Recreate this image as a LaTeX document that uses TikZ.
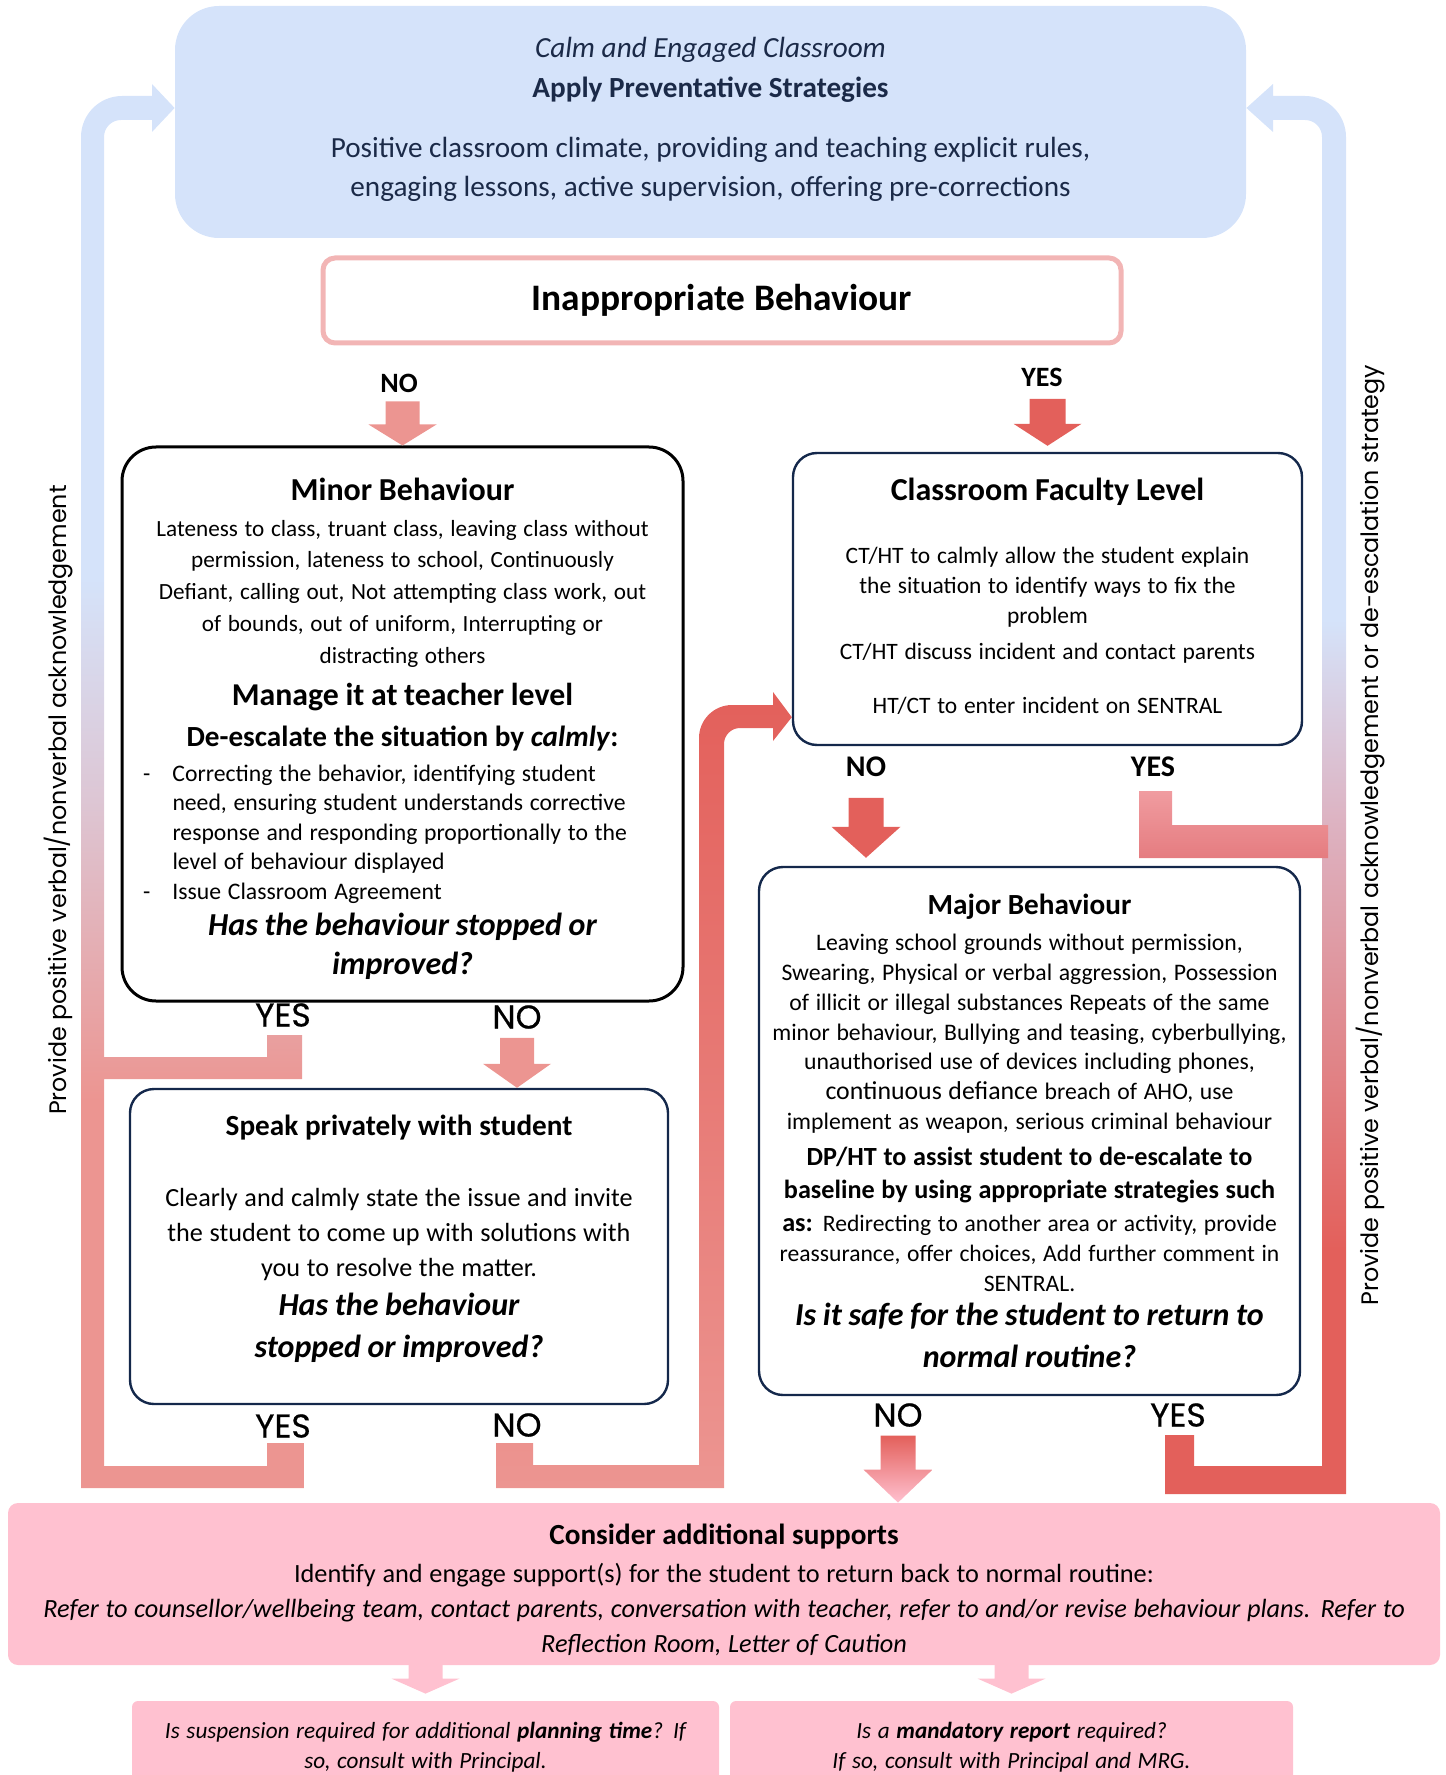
\documentclass[tikz,border=0pt]{standalone}
\usepackage{fontspec}
\setmainfont{Carlito}
\newfontfamily\geofont{Poppins}
\newfontfamily\geolabelfont[FakeBold=0.6]{Poppins}
\usetikzlibrary{calc}

\definecolor{topblue}{HTML}{D5E3FA}
\definecolor{navytext}{HTML}{1B2A48}
\definecolor{behline}{HTML}{F2B5B5}
\definecolor{boxnavy}{HTML}{14284B}
\definecolor{pinkA}{HTML}{EC9591}
\definecolor{redA}{HTML}{E3605B}
\definecolor{lavA}{HTML}{DDC6D4}
\definecolor{lavB}{HTML}{DDB3C2}
\definecolor{supportpink}{HTML}{FFC1D0}
\definecolor{yesA}{HTML}{F09CA0}
\definecolor{yesB}{HTML}{E57C80}

%gradients of the two return loops (bottom = 25bp, top = 75bp)
\pgfdeclareverticalshading{leftloop}{100bp}{color(0bp)=(pinkA); color(38.8bp)=(pinkA); color(49.5bp)=(lavA); color(57.4bp)=(topblue); color(100bp)=(topblue)}
\pgfdeclareverticalshading{rightloop}{100bp}{color(0bp)=(redA); color(33.7bp)=(redA); color(48.9bp)=(lavB); color(56bp)=(topblue); color(100bp)=(topblue)}

%block arrow pointing down: options, tip, shaft half width, head half width, head length, length
\newcommand{\blockdown}[6]{%
  \path[#1] ($(#2)+(-#3,-#6)$) -- ($(#2)+(#3,-#6)$) -- ($(#2)+(#3,-#5)$) -- ($(#2)+(#4,-#5)$)
    -- (#2) -- ($(#2)+(-#4,-#5)$) -- ($(#2)+(-#3,-#5)$) -- cycle;}
%space kept at the foot of a box text (moves the text up or down)
\newcommand{\footgap}[1]{\par\vspace{#1}\hrule height 0pt width 0pt}

\tikzset{
  panel/.style={rectangle, inner sep=0pt, align=center},
  navybox/.style={panel, draw=boxnavy, line width=1.2pt, rounded corners=12pt},
  supportbox/.style={panel, fill=supportpink, rounded corners=5pt},
  boldlabel/.style={inner sep=0pt, font=\fontsize{14}{16}\selectfont\bfseries},
  geolabel/.style={inner sep=0pt, font=\geolabelfont\fontsize{16.5}{18}\selectfont},
  sidenote/.style={inner sep=0pt, rotate=90, font=\geofont\fontsize{11.9}{13}\selectfont},
}

\begin{document}
\begin{tikzpicture}[x=0.5pt, y=-0.5pt]
\useasboundingbox (0,0) rectangle (1445,1775);

%%%%%%%%%%%%%%%%%%%%%%%%%%%%%%%%%%%%%%%%%%%%%%%%%%%%%%%%%%%%%%%%%%%%%%%%
%   boxes                                                              %
%%%%%%%%%%%%%%%%%%%%%%%%%%%%%%%%%%%%%%%%%%%%%%%%%%%%%%%%%%%%%%%%%%%%%%%%

	%Calm classroom on top
	\node[panel, fill=topblue, rounded corners=22pt, minimum width=535.5pt, minimum height=116pt, text width=520pt, text=navytext] (top) at (710.5,122) {%
		\fontsize{14.6}{20}\selectfont\itshape Calm and Engaged Classroom\par
		\upshape\bfseries Apply Preventative Strategies\par
		\vspace{10.5pt}\mdseries\fontsize{14.6}{19.5}\selectfont Positive classroom climate, providing and teaching explicit rules,\\ engaging lessons, active supervision, offering pre-corrections\par
		\vspace{3pt}};

	\node[panel, draw=behline, line width=2.5pt, rounded corners=6pt, minimum width=399pt, minimum height=42.5pt, font=\fontsize{18.7}{22}\selectfont\bfseries] (beh) at (722,300.5) {Inappropriate Behaviour};

	%Minor behaviour
	\node[panel, draw=black, line width=1.5pt, rounded corners=17pt, minimum width=280.5pt, minimum height=277pt, text width=272pt] (minor) at (402.5,724) {%
		\fontsize{16}{18}\selectfont\bfseries Minor Behaviour\par
		\vspace{2.1pt}\mdseries\fontsize{11.6}{15.9}\selectfont Lateness to class, truant class, leaving class without\\ permission, lateness to school, Continuously\\ Defiant, calling out, Not attempting class work, out\\ of bounds, out of uniform, Interrupting or\\ distracting others\par
		\vspace{4.7pt}\bfseries\fontsize{15.9}{16.3}\selectfont Manage it at teacher level\par
		\vspace{5.5pt}\fontsize{14.6}{15}\selectfont De-escalate the situation by \textit{calmly}:\par
		\vspace{2.75pt}\mdseries\fontsize{11.85}{14.75}\selectfont\raggedright\leftskip=21pt
		\leavevmode\llap{-\hspace{11pt}}Correcting the behavior, identifying student\\ need, ensuring student understands corrective\\ response and responding proportionally to the\\ level of behaviour displayed\par
		\leavevmode\llap{-\hspace{11pt}}Issue Classroom Agreement\par
		\vspace{-1.5pt}\centering\bfseries\itshape\fontsize{16}{19.5}\selectfont Has the behaviour stopped or\\ improved?\footgap{-4.5pt}};

	%Classroom faculty level
	\node[navybox, minimum width=254.5pt, minimum height=146pt, text width=250pt] (cls) at (1047.5,599) {%
		\fontsize{16}{17}\selectfont\bfseries Classroom Faculty Level\par
		\vspace{16.5pt}\mdseries\fontsize{11.75}{15}\selectfont CT/HT to calmly allow the student explain\\ the situation to identify ways to fix the\\ problem\par
		\vspace{3pt}CT/HT discuss incident and contact parents\par
		\vspace{12pt}HT/CT to enter incident on SENTRAL\footgap{2.8pt}};

	%Major behaviour
	\node[navybox, minimum width=270.5pt, minimum height=264pt, text width=268pt] (major) at (1029.5,1131) {%
		\fontsize{14.6}{16}\selectfont\bfseries Major Behaviour\par
		\vspace{3.1pt}\mdseries\fontsize{11.85}{14.9}\selectfont Leaving school grounds without permission,\\ Swearing, Physical or verbal aggression, Possession\\ of illicit or illegal substances Repeats of the same\\ minor behaviour, Bullying and teasing, cyberbullying,\\ unauthorised use of devices including phones,\\ {\fontsize{12.9}{14.9}\selectfont continuous defiance} breach of AHO, use\\ implement as weapon, serious criminal behaviour\par
		\vspace{1.5pt}\bfseries\fontsize{13.1}{16.5}\selectfont DP/HT to assist student to de-escalate to\\ baseline by using appropriate strategies such\par
		\vspace{1.5pt}\fontsize{11.8}{15}\selectfont{\fontsize{13.1}{15}\selectfont as:} \mdseries Redirecting to another area or activity, provide\\ reassurance, offer choices, Add further comment in\\ SENTRAL.\par
		\vspace{-4pt}\bfseries\itshape\fontsize{16}{21}\selectfont Is it safe for the student to return to\\ normal routine?\par};

	%Speak privately
	\node[navybox, minimum width=269pt, minimum height=157.5pt, text width=262pt] (speak) at (399,1246.5) {%
		\fontsize{14.6}{16}\selectfont\bfseries Speak privately with student\par
		\vspace{18pt}\mdseries\fontsize{13.1}{17.5}\selectfont Clearly and calmly state the issue and invite\\ the student to come up with solutions with\\ you to resolve the matter.\par
		\vspace{-1.5pt}\bfseries\itshape\fontsize{16}{21}\selectfont Has the behaviour\\ stopped or improved?\footgap{8pt}};

	%Additional supports
	\node[supportbox, minimum width=716pt, minimum height=81pt, text width=710pt] (support) at (724,1584) {%
		\fontsize{14.6}{19}\selectfont\bfseries Consider additional supports\par
		\vspace{1.5pt}\mdseries\fontsize{13.15}{17.5}\selectfont Identify and engage support(s) for the student to return back to normal routine:\par
		\itshape Refer to counsellor/wellbeing team, contact parents, conversation with teacher, refer to and/or revise behaviour plans. Refer to\\ Reflection Room, Letter of Caution\footgap{-5.7pt}};

	\node[supportbox, rounded corners=3pt, minimum width=293.5pt, minimum height=49.5pt, text width=285pt] (suspend) at (425.5,1750.5) {%
		\itshape\fontsize{11.6}{15}\selectfont Is suspension required for additional \textbf{planning time}? If\\ so, consult with Principal.\footgap{3.4pt}};
	\node[supportbox, rounded corners=3pt, minimum width=281.5pt, minimum height=49.5pt, text width=275pt] (report) at (1011.5,1750.5) {%
		\itshape\fontsize{11.6}{15}\selectfont Is a \textbf{mandatory report} required?\\ If so, consult with Principal and MRG.\footgap{3.4pt}};

%%%%%%%%%%%%%%%%%%%%%%%%%%%%%%%%%%%%%%%%%%%%%%%%%%%%%%%%%%%%%%%%%%%%%%%%
%   labels                                                             %
%%%%%%%%%%%%%%%%%%%%%%%%%%%%%%%%%%%%%%%%%%%%%%%%%%%%%%%%%%%%%%%%%%%%%%%%

	\node[boldlabel] (notop) at (399,383) {NO};
	\node[boldlabel] (yestop) at (1042,377) {YES};
	\node[geolabel] (yesminor) at (283,1015) {YES};
	\node[geolabel] (nominor) at (517,1017) {NO};
	\node[geolabel] (yesspeak) at (283,1426) {YES};
	\node[geolabel] (nospeak) at (517,1425) {NO};
	\node[boldlabel, font=\fontsize{15}{17}\selectfont\bfseries] (nocls) at (866,767) {NO};
	\node[boldlabel, font=\fontsize{15}{17}\selectfont\bfseries] (yescls) at (1153,767) {YES};
	\node[geolabel] (nomaj) at (898,1415) {NO};
	\node[geolabel] (yesmaj) at (1178,1415) {YES};

	\node[sidenote] (leftnote) at (59,800) {Provide positive verbal/nonverbal acknowledgement};
	\node[sidenote] (rightnote) at (1370,835) {Provide positive verbal/nonverbal acknowledgement or de-escalation strategy};

%%%%%%%%%%%%%%%%%%%%%%%%%%%%%%%%%%%%%%%%%%%%%%%%%%%%%%%%%%%%%%%%%%%%%%%%
%   connectors                                                         %
%%%%%%%%%%%%%%%%%%%%%%%%%%%%%%%%%%%%%%%%%%%%%%%%%%%%%%%%%%%%%%%%%%%%%%%%

	%Arrow tips
	\coordinate (t1) at (minor.north);
	\coordinate (t2) at ($(cls.north)+(0,-6)$);
	\coordinate (t3) at (nominor |- speak.north);
	\coordinate (t8) at ($(nocls |- major.north)+(0,-8)$);
	\coordinate (t12) at (nomaj |- support.north);
	\coordinate (t13) at ($(suspend.north)+(0,-7)$);
	\coordinate (t14) at ($(report.north)+(0,-7)$);
	\coordinate (lefttip) at ($(top.west)+(0,-14)$);
	\coordinate (righttip) at ($(top.east)+(0,-14)$);
	\coordinate (clstip) at ($(cls.south west)+(0,-29)$);

	%Return loop on the left (YES of minor and speak boxes)
	\shade[shading=leftloop] (lefttip) -- (152,132) -- (152,120) -- (121,120)
		.. controls (111.6,120) and (104,127.6) .. (104,137)
		-- (104,1057) -- (267,1057) -- (267,1035) -- (302,1035) -- (302,1079) -- (104,1079)
		-- (104,1466) -- (267,1466) -- (267,1443) -- (304,1443) -- (304,1488) -- (81,1488)
		-- (81,137) .. controls (81,114.4) and (99.4,96) .. (122,96)
		-- (152,96) -- (152,84) -- cycle;

	%Return loop on the right (YES of major box)
	\shade[shading=rightloop] (righttip) -- (1273,84) -- (1273,96) -- (1305,96)
		.. controls (1327.6,96) and (1346,114.4) .. (1346,137)
		-- (1346,1494) -- (1165,1494) -- (1165,1435) -- (1194,1435) -- (1194,1466) -- (1322,1466)
		-- (1322,137) .. controls (1322,127.6) and (1314.4,120) .. (1305,120)
		-- (1273,120) -- (1273,132) -- cycle;

	%YES of classroom faculty level into right loop
	\shade[top color=yesA, bottom color=yesB] (1139,791) -- (1172,791) -- (1172,825) -- (1328,825) -- (1328,858) -- (1139,858) -- cycle;

	%NO of speak box up to classroom faculty level
	\shade[top color=redA, bottom color=pinkA] (clstip) -- (773,741) -- (773,728) -- (740,728)
		.. controls (731.2,728) and (724,735.2) .. (724,744)
		-- (724,1488) -- (496,1488) -- (496,1443) -- (533,1443) -- (533,1465) -- (699,1465)
		-- (699,738) .. controls (699,719.8) and (713.8,705) .. (732,705)
		-- (773,705) -- (773,692) -- cycle;

	%Straight down arrows
	\blockdown{fill=pinkA}{t1}{17}{34}{21}{44}
	\blockdown{fill=redA}{t2}{18}{34}{22}{47}
	\blockdown{fill=pinkA}{t3}{17}{34}{24}{50}
	\blockdown{fill=redA}{t8}{17.5}{34.5}{31}{60}
	\blockdown{top color=redA, bottom color=supportpink}{t12}{17.5}{34.5}{33}{67}
	\blockdown{fill=supportpink}{t13}{17}{34}{15}{29}
	\blockdown{fill=supportpink}{t14}{17}{34}{15}{29}

\end{tikzpicture}
\end{document}
